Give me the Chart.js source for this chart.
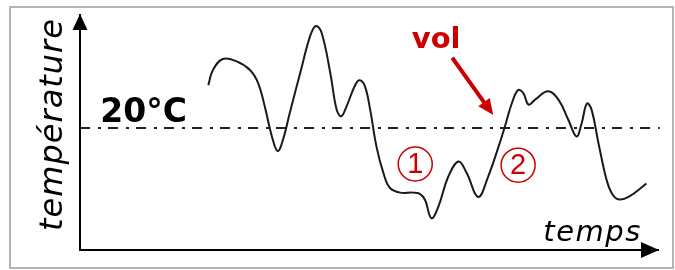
<!DOCTYPE html>
<html>
<head>
<meta charset="utf-8">
<script src="https://cdn.jsdelivr.net/npm/chart.js@4/dist/chart.umd.min.js"></script>
<style>
  html, body { margin: 0; padding: 0; background: #fff; }
  #box { width: 675px; height: 270px; }
</style>
</head>
<body>
<div id="box"><canvas id="tempChart"></canvas></div>
<script>
// temps (0-100) et température (°C)
var temps = [22.2, 23.0, 24.7, 27.1, 29.4, 30.8, 32.0, 33.2, 34.2, 35.1, 36.3, 38.1, 39.8, 40.8, 41.8,
    43.3, 44.4, 45.2, 46.1, 47.6, 48.4, 49.3, 50.2, 51.3, 52.5, 53.6, 55.4, 57.6, 58.8, 59.7,
    60.8, 62.0, 63.7, 65.5, 66.9, 68.9, 70.6, 72.4, 73.5, 74.7, 75.8, 76.7, 77.6, 78.7, 81.0,
    82.8, 84.5, 85.9, 86.8, 87.7, 88.5, 89.7, 91.1, 92.0, 93.1, 94.9, 98.0];
var temperature = [27.0, 29.5, 31.3, 30.9, 29.5, 27.4, 23.4, 18.6, 16.2, 18.0, 22.5, 29.0, 35.0, 36.7, 35.6,
    29.0, 23.0, 21.9, 23.5, 27.0, 27.8, 26.8, 23.0, 16.9, 12.6, 10.2, 9.4, 9.4, 9.2, 8.2,
    5.2, 7.1, 12.0, 14.5, 12.6, 8.7, 12.0, 16.9, 20.2, 24.0, 26.2, 25.7, 23.8, 24.6, 26.0,
    24.6, 21.3, 18.6, 20.8, 24.0, 23.0, 17.5, 11.5, 9.3, 8.3, 8.7, 10.9];
var seuil = 20;
var seuilLabel = "20°C";
var axeY = "température";
var axeX = "temps";
var volLabel = "vol";
var marques = [
    { texte: "1", t: 58.0, temp: 14.1 },
    { texte: "2", t: 75.8, temp: 13.9 }
];

var rouge = "#cc0000";

var points = temps.map(function (t, i) {
    return { x: t, y: temperature[i] };
});

var decor = {
    id: 'decor',
    beforeDraw: function (chart) {
        var c = chart.ctx;
        c.save();
        c.fillStyle = "#fff";
        c.fillRect(0, 0, chart.width, chart.height);
        c.strokeStyle = "#b4b4b4";
        c.lineWidth = 2;
        c.strokeRect(10, 7, 663, 261);
        c.restore();
    },
    beforeDatasetsDraw: function (chart) {
        var c = chart.ctx;
        var xs = chart.scales.x, ys = chart.scales.y;
        var y = ys.getPixelForValue(seuil);
        c.save();
        c.strokeStyle = "#222";
        c.lineWidth = 2;
        c.setLineDash([10, 8, 3, 7]);
        c.beginPath();
        c.moveTo(xs.getPixelForValue(0), y);
        c.lineTo(xs.getPixelForValue(100.3), y);
        c.stroke();
        c.restore();
    },
    afterDatasetsDraw: function (chart) {
        var c = chart.ctx;
        var xs = chart.scales.x, ys = chart.scales.y;
        var a = chart.chartArea;
        c.save();

        // fleches des axes
        c.fillStyle = "#000";
        c.beginPath();
        c.moveTo(a.left, a.top - 1);
        c.lineTo(a.left - 7.5, a.top + 15);
        c.lineTo(a.left + 7.5, a.top + 15);
        c.closePath();
        c.fill();
        c.beginPath();
        c.moveTo(a.right + 1, a.bottom);
        c.lineTo(a.right - 17, a.bottom - 8);
        c.lineTo(a.right - 17, a.bottom + 8);
        c.closePath();
        c.fill();

        // 20°C
        c.fillStyle = "#000";
        c.font = "bold 33px 'DejaVu Sans'";
        c.textAlign = "left";
        c.textBaseline = "alphabetic";
        c.fillText(seuilLabel, xs.getPixelForValue(3.5), ys.getPixelForValue(21.0));

        // titres des axes
        c.font = "italic 32px 'DejaVu Sans'";
        c.letterSpacing = "1px";
        c.save();
        c.translate(a.left - 18, (a.top + a.bottom) / 2 - 8);
        c.rotate(-Math.PI / 2);
        c.textAlign = "center";
        c.fillText(axeY, 0, 0);
        c.restore();

        c.font = "italic 29px 'DejaVu Sans'";
        c.letterSpacing = "1.5px";
        c.textAlign = "right";
        c.fillText(axeX, xs.getPixelForValue(97.2), ys.getPixelForValue(1.5));
        c.letterSpacing = "0px";

        // vol + fleche rouge
        c.fillStyle = rouge;
        c.strokeStyle = rouge;
        c.font = "bold 29px 'DejaVu Sans'";
        c.textAlign = "left";
        c.fillText(volLabel, xs.getPixelForValue(57.4), ys.getPixelForValue(33.1));

        var x0 = xs.getPixelForValue(64.4), y0 = ys.getPixelForValue(31.5);
        var x1 = xs.getPixelForValue(71.5), y1 = ys.getPixelForValue(22.1);
        var ang = Math.atan2(y1 - y0, x1 - x0);
        c.lineWidth = 4;
        c.beginPath();
        c.moveTo(x0, y0);
        c.lineTo(x1 - 12 * Math.cos(ang), y1 - 12 * Math.sin(ang));
        c.stroke();
        c.beginPath();
        c.moveTo(x1, y1);
        c.lineTo(x1 - 16 * Math.cos(ang) + 7 * Math.sin(ang), y1 - 16 * Math.sin(ang) - 7 * Math.cos(ang));
        c.lineTo(x1 - 16 * Math.cos(ang) - 7 * Math.sin(ang), y1 - 16 * Math.sin(ang) + 7 * Math.cos(ang));
        c.closePath();
        c.fill();

        // chiffres cerclés
        c.lineWidth = 1.5;
        c.font = "29px 'Liberation Sans'";
        c.textAlign = "center";
        c.textBaseline = "middle";
        marques.forEach(function (m) {
            var px = xs.getPixelForValue(m.t), py = ys.getPixelForValue(m.temp);
            c.beginPath();
            c.arc(px, py, 17, 0, Math.PI * 2);
            c.stroke();
            c.fillText(m.texte, px, py + 1);
        });
        c.restore();
    }
};

var ctx = document.getElementById("tempChart");

var tempChart = new Chart(ctx, {
    type: 'line',
    data: {
        datasets: [
            {
                data: points,
                borderColor: "#1a1a1a",
                borderWidth: 2,
                fill: false,
                pointRadius: 0,
                tension: 0.4
            }
        ]
    },
    options: {
        responsive: true,
        maintainAspectRatio: false,
        animation: false,
        layout: { padding: { left: 80, top: 15, right: 17, bottom: 20 } },
        plugins: { legend: { display: false }, tooltip: { enabled: false } },
        scales: {
            x: {
                type: 'linear',
                min: 0,
                max: 100,
                ticks: { display: false },
                grid: { display: false, drawTicks: false },
                border: { display: true, color: "#000", width: 2 }
            },
            y: {
                min: 0,
                max: 38.5,
                ticks: { display: false },
                grid: { display: false, drawTicks: false },
                border: { display: true, color: "#000", width: 2 }
            }
        }
    },
    plugins: [decor]
});
</script>
</body>
</html>
